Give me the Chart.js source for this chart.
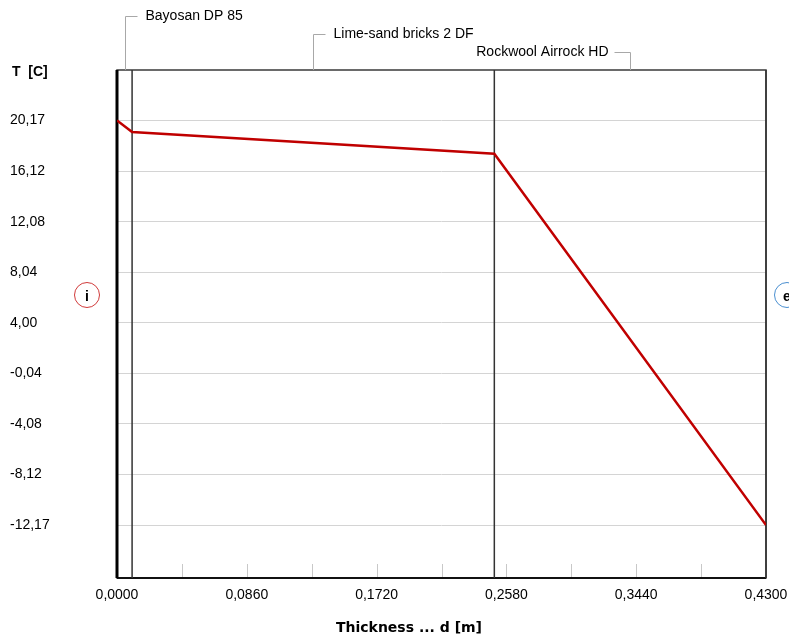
<!DOCTYPE html>
<html>
<head>
<meta charset="utf-8">
<script src="https://cdn.jsdelivr.net/npm/chart.js@4.4.1/dist/chart.umd.min.js"></script>
<style>
  html, body { margin: 0; padding: 0; background: #fff; }
  #wrap { width: 789px; height: 641px; position: relative; }
</style>
</head>
<body>
<div id="wrap"><canvas id="chart"></canvas></div>
<script>
// layers of the wall, from inside to outside
var layerNames = ['Bayosan DP 85', 'Lime-sand bricks 2 DF', 'Rockwool Airrock HD'];
var layerEdges = [0, 0.01, 0.25, 0.43];

// temperature profile through the wall
var thickness = [0, 0.01, 0.25, 0.43];
var temperature = [20.17, 19.24, 17.51, -12.17];

// axis ticks
var yTicks = [20.17, 16.12, 12.08, 8.04, 4.00, -0.04, -4.08, -8.12, -12.17];
var xTicks = [0, 0.043, 0.086, 0.129, 0.172, 0.215, 0.258, 0.301, 0.344, 0.387, 0.43];
var xLabelTicks = [0, 0.086, 0.172, 0.258, 0.344, 0.43];

var FONT = '"Liberation Sans", Arial, sans-serif';

var wallPlugin = {
    id: 'wall',
    beforeDatasetsDraw: function (chart) {
        var ctx = chart.ctx;
        var area = chart.chartArea;
        var xs = chart.scales.x;
        ctx.save();

        // small tick marks along the bottom
        ctx.strokeStyle = '#c8c8c8';
        ctx.lineWidth = 1;
        xTicks.forEach(function (t) {
            var px = Math.round(xs.getPixelForValue(t)) + 0.5;
            ctx.beginPath();
            ctx.moveTo(px, area.bottom);
            ctx.lineTo(px, area.bottom - 14);
            ctx.stroke();
        });

        // frame
        ctx.strokeStyle = '#3a3a3a';
        ctx.lineWidth = 1.5;
        ctx.strokeRect(area.left, area.top, area.right - area.left, area.bottom - area.top);
        ctx.strokeStyle = '#111';
        ctx.lineWidth = 2;
        ctx.beginPath();
        ctx.moveTo(area.left, area.bottom);
        ctx.lineTo(area.right, area.bottom);
        ctx.stroke();

        // layer boundaries
        layerEdges.forEach(function (e, i) {
            var px = xs.getPixelForValue(e);
            ctx.strokeStyle = i === 0 ? '#000' : '#333';
            ctx.lineWidth = i === 0 ? 3 : 1.5;
            ctx.beginPath();
            ctx.moveTo(px, area.top);
            ctx.lineTo(px, area.bottom);
            ctx.stroke();
        });

        // layer name callouts
        ctx.font = '14px ' + FONT;
        ctx.textBaseline = 'middle';
        layerNames.forEach(function (name, i) {
            var mid = Math.round(xs.getPixelForValue((layerEdges[i] + layerEdges[i + 1]) / 2)) + 0.5;
            var ly = Math.round(area.top - 54 + i * 18) + 0.5;
            var w = ctx.measureText(name).width;
            ctx.strokeStyle = '#a8a8a8';
            ctx.lineWidth = 1;
            ctx.beginPath();
            ctx.moveTo(mid, area.top);
            ctx.lineTo(mid, ly);
            var toRight = mid + 20 + w < area.right;
            ctx.lineTo(toRight ? mid + 12 : mid - 16, ly);
            ctx.stroke();
            ctx.fillStyle = '#000';
            ctx.textAlign = toRight ? 'left' : 'right';
            ctx.fillText(name, toRight ? mid + 20 : mid - 22, ly);
        });

        // axis titles
        ctx.fillStyle = '#000';
        ctx.font = 'bold 14px ' + FONT;
        ctx.textAlign = 'left';
        ctx.fillText('T  [C]', 12, area.top + 2);
        ctx.textAlign = 'center';
        ctx.font = 'bold 14px "DejaVu Sans", sans-serif';
        ctx.fillText('Thickness ... d [m]', 409, area.bottom + 50);

        // inside / outside markers
        var my = area.top + 225;
        ctx.lineWidth = 1;
        ctx.strokeStyle = '#d03a3a';
        ctx.beginPath();
        ctx.arc(87, my, 12.5, 0, Math.PI * 2);
        ctx.stroke();
        ctx.strokeStyle = '#4a8fd0';
        ctx.beginPath();
        ctx.arc(787, my, 12.5, 0, Math.PI * 2);
        ctx.stroke();
        ctx.fillStyle = '#000';
        ctx.font = 'bold 14px ' + FONT;
        ctx.fillText('i', 87, my + 2);
        ctx.fillText('e', 787, my + 2);

        ctx.restore();
    }
};

var ctx = document.getElementById('chart').getContext('2d');
var chart = new Chart(ctx, {
    type: 'line',
    data: {
        datasets: [{
            data: thickness.map(function (t, i) { return { x: t, y: temperature[i] }; }),
            borderColor: '#c00000',
            borderWidth: 2.5,
            pointRadius: 0,
            tension: 0,
            fill: false
        }]
    },
    options: {
        responsive: true,
        maintainAspectRatio: false,
        animation: false,
        layout: { padding: { left: 10, right: 23, top: 70, bottom: 0 } },
        plugins: {
            legend: { display: false },
            tooltip: { enabled: false }
        },
        scales: {
            x: {
                type: 'linear',
                min: 0,
                max: 0.43,
                grid: { display: false, drawTicks: false },
                border: { display: false },
                afterBuildTicks: function (scale) {
                    scale.ticks = xTicks.map(function (v) { return { value: v }; });
                },
                afterFit: function (scale) {
                    scale.height = 63;
                    scale.paddingLeft = 0;
                    scale.paddingRight = 0;
                },
                ticks: {
                    autoSkip: false,
                    maxRotation: 0,
                    padding: 9,
                    color: '#000',
                    font: { family: FONT, size: 14 },
                    callback: function (v) {
                        var show = xLabelTicks.some(function (t) { return Math.abs(t - v) < 1e-9; });
                        return show ? v.toFixed(4).replace('.', ',') : '';
                    }
                }
            },
            y: {
                type: 'linear',
                min: -16.4,
                max: 24.2,
                grid: { color: '#d4d4d4', lineWidth: 1, drawTicks: false },
                border: { display: false },
                afterBuildTicks: function (scale) {
                    scale.ticks = yTicks.map(function (v) { return { value: v }; });
                },
                afterFit: function (scale) {
                    scale.width = 107;
                    scale.paddingTop = 0;
                    scale.paddingBottom = 0;
                },
                ticks: {
                    crossAlign: 'far',
                    padding: 0,
                    color: '#000',
                    font: { family: FONT, size: 14 },
                    callback: function (v) { return v.toFixed(2).replace('.', ','); }
                }
            }
        }
    },
    plugins: [wallPlugin]
});
</script>
</body>
</html>
